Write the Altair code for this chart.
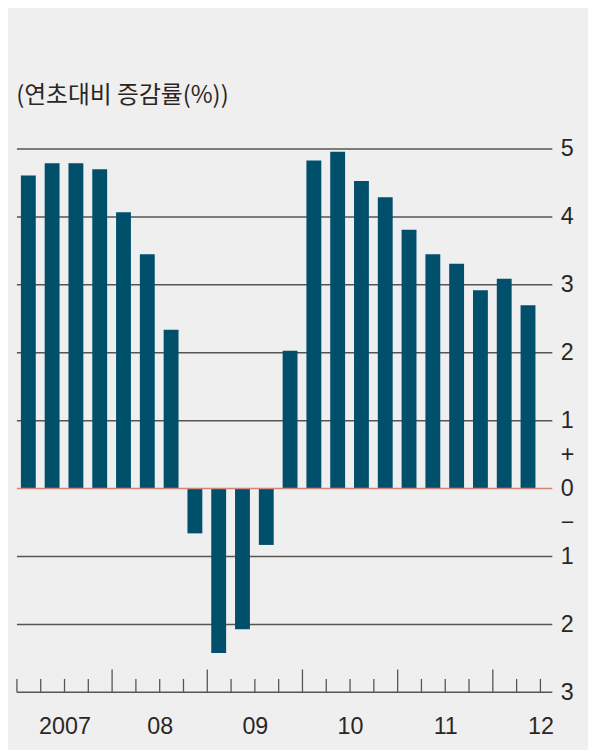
import altair as alt
import pandas as pd

# ---- data ----
quarters = ["2007Q1", "2007Q2", "2007Q3", "2007Q4",
            "2008Q1", "2008Q2", "2008Q3", "2008Q4",
            "2009Q1", "2009Q2", "2009Q3", "2009Q4",
            "2010Q1", "2010Q2", "2010Q3", "2010Q4",
            "2011Q1", "2011Q2", "2011Q3", "2011Q4",
            "2012Q1", "2012Q2"]
values = [4.61, 4.79, 4.79, 4.70,
          4.07, 3.45, 2.34, -0.66,
          -2.42, -2.07, -0.83, 2.03,
          4.83, 4.96, 4.53, 4.29,
          3.81, 3.45, 3.31, 2.92,
          3.09, 2.70]
year_labels = ["2007", "08", "09", "10", "11", "12"]
grid_values = [5, 4, 3, 2, 1, -1, -2]
axis_values = [5, 4, 3, 2, 1, 0.5, 0, -0.5, -1, -2, -3]
title_text = "(연초대비 증감률(%))"

# ---- layout / style ----
W, H = 540, 548
Y_MIN, Y_MAX = -3, 5
X_MAX = len(quarters) + 0.5
PX_PER_UNIT = H / (Y_MAX - Y_MIN)
BAR_OFFSET = 4 / 24
BAR_WIDTH = 15 / 24
TICK_MINOR_PX = 13.5
TICK_MAJOR_PX = 23
BAR_COLOR = "#00506c"
GRID_COLOR = "#5a5452"
ZERO_COLOR = "#d4857a"
TEXT_COLOR = "#2b2624"
BG = "#efefef"
FONT = "Liberation Sans"

bars_df = pd.DataFrame({"q": quarters, "v": values})
bars_df["idx"] = range(len(quarters))
bars_df["x0"] = bars_df["idx"] + BAR_OFFSET
bars_df["x1"] = bars_df["idx"] + BAR_OFFSET + BAR_WIDTH

tick_pos = list(range(len(quarters) + 1))
ticks_df = pd.DataFrame({"x": tick_pos})
ticks_df["y0"] = Y_MIN
ticks_df["y1"] = [Y_MIN + ((TICK_MAJOR_PX if (p % 4 == 0 and p > 0) else TICK_MINOR_PX) / PX_PER_UNIT)
                  for p in tick_pos]

grid_df = pd.DataFrame({"g": grid_values})
base_df = pd.DataFrame({"g": [Y_MIN]})
zero_df = pd.DataFrame({"g": [0]})

xscale = alt.Scale(domain=[0, X_MAX], nice=False, zero=False)
yscale = alt.Scale(domain=[Y_MIN, Y_MAX], nice=False, zero=False)

year_mid = [4 * i + 2 for i in range(len(year_labels))]
label_arr = "[" + ",".join("'%s'" % s for s in year_labels) + "]"

xaxis = alt.Axis(values=year_mid, labelExpr=label_arr + "[floor(datum.value/4)]",
                 ticks=False, domain=False, grid=False, title=None,
                 labelFontSize=23.5, labelFont=FONT, labelColor=TEXT_COLOR,
                 labelPadding=23, labelAlign="center")
yaxis = alt.Axis(orient="right", values=axis_values,
                 labelExpr="datum.value == 0.5 ? '+' : (datum.value == -0.5 ? '\u2212' : '' + abs(datum.value))",
                 ticks=False, domain=False, grid=False, title=None,
                 labelFontSize=23.5, labelFont=FONT, labelColor=TEXT_COLOR,
                 labelPadding=8, labelBaseline="middle")

grid = alt.Chart(grid_df).mark_rule(color=GRID_COLOR, strokeWidth=1.5).encode(
    y=alt.Y("g:Q", scale=yscale, axis=yaxis)
)
base_line = alt.Chart(base_df).mark_rule(color=GRID_COLOR, strokeWidth=1.5).encode(
    y=alt.Y("g:Q", scale=yscale, axis=yaxis)
)
ticks = alt.Chart(ticks_df).mark_rule(color=GRID_COLOR, strokeWidth=1.3).encode(
    x=alt.X("x:Q", scale=xscale, axis=xaxis),
    y=alt.Y("y0:Q", scale=yscale, axis=yaxis),
    y2="y1:Q",
)
bars = alt.Chart(bars_df).mark_bar(color=BAR_COLOR).encode(
    x=alt.X("x0:Q", scale=xscale, axis=xaxis),
    x2="x1:Q",
    y=alt.Y("v:Q", scale=yscale, axis=yaxis),
    y2=alt.datum(0),
)
zero = alt.Chart(zero_df).mark_rule(color=ZERO_COLOR, strokeWidth=1.6).encode(
    y=alt.Y("g:Q", scale=yscale, axis=yaxis)
)

chart = alt.layer(grid, base_line, ticks, bars, zero).properties(
    width=W, height=H,
    title=alt.TitleParams(text=title_text, anchor="start", font="Noto Sans CJK KR",
                          fontSize=24, fontWeight="normal", color=TEXT_COLOR, offset=29),
    autosize=alt.AutoSizeParams(type="none"),
    padding={"left": 9, "top": 139, "right": 36, "bottom": 55},
    background=BG,
).configure_view(stroke=None)

chart.save("out.html", embed_options={"renderer": "svg", "actions": False})
